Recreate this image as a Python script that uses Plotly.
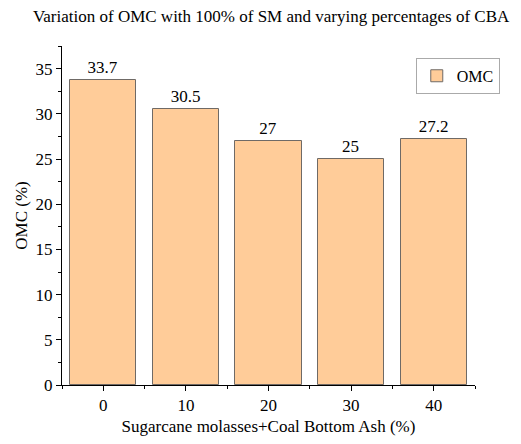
import plotly.graph_objects as go

categories = [0, 10, 20, 30, 40]
omc_values = [33.7, 30.5, 27, 25, 27.2]
omc_labels = ["33.7", "30.5", "27", "25", "27.2"]

font = "Liberation Serif, Times New Roman, serif"

fig = go.Figure()
fig.add_trace(go.Bar(
    x=categories, y=omc_values, width=8,
    name="OMC",
    marker=dict(color="#FFCC99", line=dict(color="#6f6a66", width=1)),
    text=omc_labels, textposition="outside",
    textfont=dict(family=font, size=17, color="black"),
    cliponaxis=False,
))

fig.update_layout(
    width=521, height=444,
    margin=dict(l=54, r=54, t=38, b=67, autoexpand=False),
    paper_bgcolor="white", plot_bgcolor="white",
    font=dict(family=font, size=17, color="black"),
    title=dict(text="Variation of OMC with 100% of SM and varying percentages of CBA",
               x=0.505, xanchor="center", y=0.982, yanchor="middle",
               font=dict(family=font, size=17, color="black")),
    showlegend=True,
    legend=dict(x=1.06, y=0.965, xanchor="right", yanchor="top",
                bordercolor="#aaaaaa", borderwidth=1, bgcolor="white",
                font=dict(family=font, size=16), tracegroupgap=0,
                itemwidth=30),
    bargap=0,
)
fig.update_xaxes(
    range=[-5, 45], tickvals=categories, ticktext=[str(c) for c in categories],
    showline=True, linecolor="black", linewidth=1,
    ticks="outside", ticklen=5, tickcolor="black",
    minor=dict(tickvals=[-5, 5, 15, 25, 35, 45], ticks="outside", ticklen=3, tickcolor="black"),
    showgrid=False, zeroline=False,
    title=dict(text="Sugarcane molasses+Coal Bottom Ash (%)", standoff=5,
               font=dict(family=font, size=17)),
)
fig.update_yaxes(
    range=[0, 37.5], tickvals=[0, 5, 10, 15, 20, 25, 30, 35],
    showline=True, linecolor="black", linewidth=1,
    ticks="outside", ticklen=5, tickcolor="black",
    minor=dict(dtick=2.5, ticks="outside", ticklen=3, tickcolor="black"),
    showgrid=False, zeroline=False,
    title=dict(text="OMC (%)", standoff=3, font=dict(family=font, size=17)),
)

fig.write_html("out.html")
